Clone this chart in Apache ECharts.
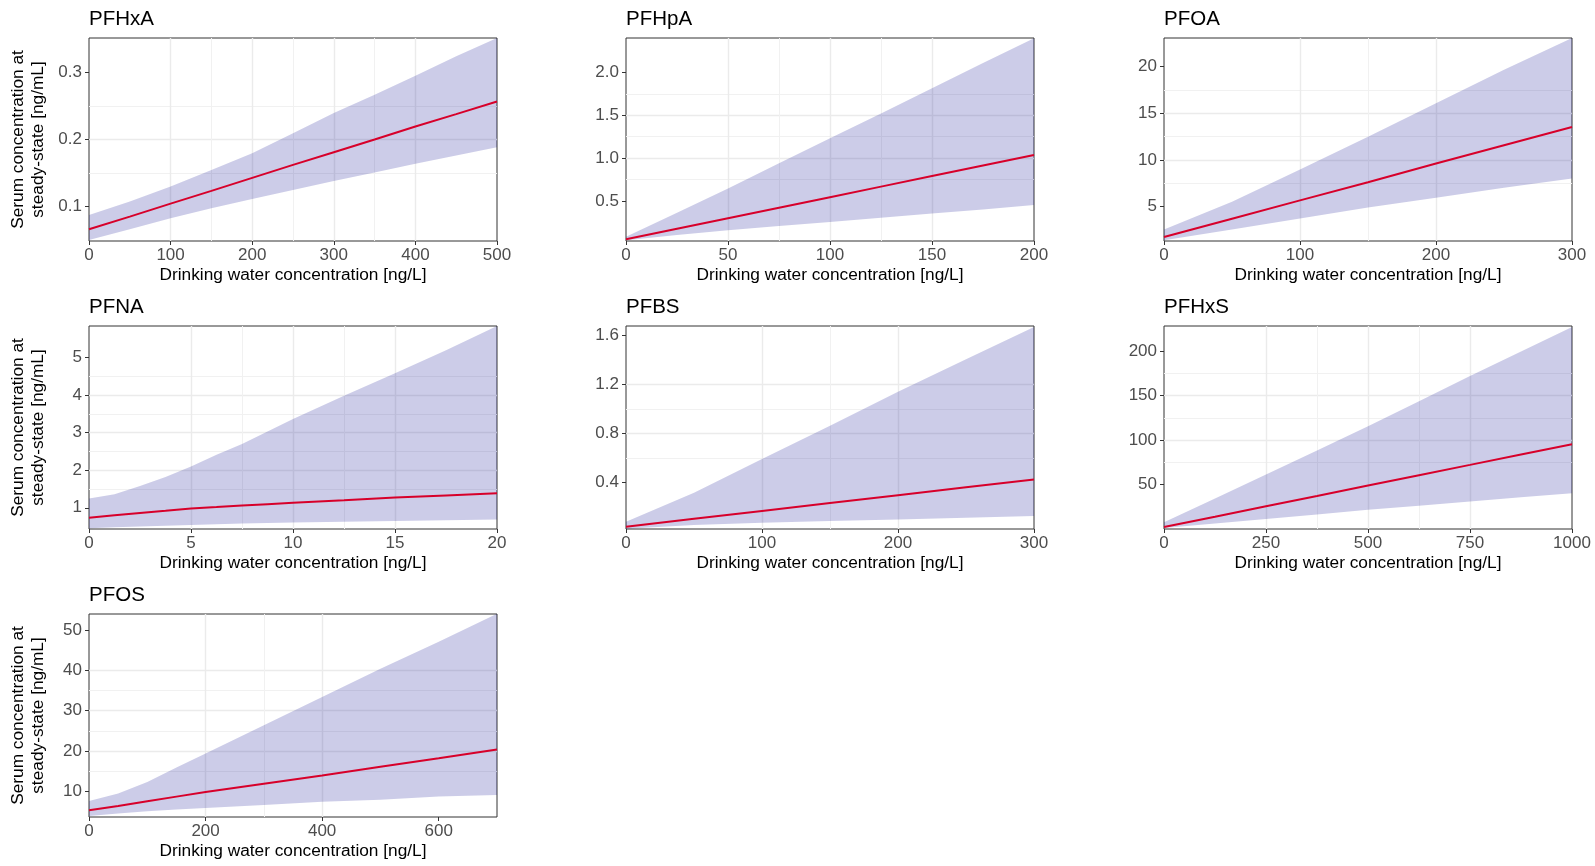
<!DOCTYPE html>
<html>
<head>
<meta charset="utf-8">
<title>Serum vs drinking water</title>
<script src="https://cdn.jsdelivr.net/npm/echarts@6/dist/echarts.min.js"></script>
<style>
  html, body { margin: 0; padding: 0; background: #fff; }
  #chart { width: 1595px; height: 866px; }
</style>
</head>
<body>
<div id="chart"></div>
<script>
// panel titles
const panelNames = ['PFHxA', 'PFHpA', 'PFOA', 'PFNA', 'PFBS', 'PFHxS', 'PFOS']

// median line + band (low / high) for each compound
const pfhxaX = [0, 50, 100, 150, 200, 250, 300, 350, 400, 450, 500]
const pfhxaMid = [0.0655, 0.0845, 0.104, 0.123, 0.1425, 0.162, 0.181, 0.2, 0.2195, 0.238, 0.257]
const pfhxaLow = [0.0495, 0.0655, 0.082, 0.097, 0.111, 0.1245, 0.138, 0.1505, 0.1635, 0.176, 0.1885]
const pfhxaHigh = [0.087, 0.107, 0.1295, 0.1545, 0.1795, 0.2095, 0.2395, 0.267, 0.2955, 0.3245, 0.352]

const pfhpaX = [0, 25, 50, 75, 100, 125, 150, 175, 200]
const pfhpaMid = [0.051, 0.174, 0.297, 0.42, 0.543, 0.666, 0.789, 0.912, 1.035]
const pfhpaLow = [0.039, 0.1, 0.156, 0.205, 0.254, 0.303, 0.352, 0.4, 0.452]
const pfhpaHigh = [0.08, 0.36, 0.645, 0.94, 1.23, 1.52, 1.816, 2.11, 2.4]

const pfoaX = [0, 50, 100, 150, 200, 250, 300]
const pfoaMid = [1.74, 3.7, 5.66, 7.6, 9.6, 11.55, 13.51]
const pfoaLow = [1.38, 2.53, 3.71, 4.89, 5.93, 7.0, 8.0]
const pfoaHigh = [2.53, 5.5, 8.97, 12.48, 16.06, 19.64, 23.04]

const pfnaX = [0, 1.25, 2.5, 3.75, 5, 6.25, 7.5, 8.75, 10, 12.5, 15, 17.5, 20]
const pfnaMid = [0.736, 0.8, 0.86, 0.92, 0.982, 1.02, 1.06, 1.096, 1.132, 1.2, 1.273, 1.33, 1.388]
const pfnaLow = [0.454, 0.48, 0.5, 0.52, 0.54, 0.56, 0.58, 0.595, 0.61, 0.63, 0.65, 0.67, 0.69]
const pfnaHigh = [1.25, 1.36, 1.58, 1.82, 2.1, 2.41, 2.7, 3.03, 3.36, 3.98, 4.58, 5.19, 5.84]

const pfbsX = [0, 50, 100, 150, 200, 250, 300]
const pfbsMid = [0.036, 0.1, 0.165, 0.23, 0.294, 0.358, 0.422]
const pfbsLow = [0.02, 0.05, 0.068, 0.082, 0.095, 0.109, 0.123]
const pfbsHigh = [0.077, 0.313, 0.59, 0.862, 1.141, 1.407, 1.671]

const pfhxsX = [0, 125, 250, 375, 500, 625, 750, 875, 1000]
const pfhxsMid = [2.4, 14.0, 25.7, 37.3, 49.0, 60.6, 72.2, 83.9, 95.5]
const pfhxsLow = [1.3, 6.3, 11.3, 16.5, 21.7, 26.3, 31.0, 35.7, 40.3]
const pfhxsHigh = [7.6, 34.5, 61.5, 88.5, 115.6, 143.8, 172.1, 199.6, 227.2]

const pfosX = [0, 50, 100, 150, 200, 300, 400, 500, 600, 700]
const pfosMid = [5.3, 6.4, 7.55, 8.7, 9.84, 11.9, 13.96, 16.1, 18.2, 20.4]
const pfosLow = [3.9, 4.5, 5.1, 5.5, 5.9, 6.6, 7.4, 7.9, 8.7, 9.1]
const pfosHigh = [7.6, 9.5, 12.3, 15.9, 19.4, 26.4, 33.4, 40.4, 47.1, 54.0]

// axis ranges and ticks
const xRanges = [[0, 500], [0, 200], [0, 300], [0, 20], [0, 300], [0, 1000], [0, 700]]
const yRanges = [[0.048, 0.352], [0.031, 2.402], [1.31, 23.04], [0.436, 5.837], [0.017, 1.679], [0.13, 228.3], [3.65, 53.96]]
const xTicks = [
  [0, 100, 200, 300, 400, 500], [0, 50, 100, 150, 200], [0, 100, 200, 300],
  [0, 5, 10, 15, 20], [0, 100, 200, 300], [0, 250, 500, 750, 1000], [0, 200, 400, 600]
]
const xMinorTicks = [
  [50, 150, 250, 350, 450], [25, 75, 125, 175], [50, 150, 250],
  [2.5, 7.5, 12.5, 17.5], [50, 150, 250], [125, 375, 625, 875], [100, 300, 500]
]
const yTicks = [
  [0.1, 0.2, 0.3], [0.5, 1.0, 1.5, 2.0], [5, 10, 15, 20],
  [1, 2, 3, 4, 5], [0.4, 0.8, 1.2, 1.6], [50, 100, 150, 200], [10, 20, 30, 40, 50]
]
const yMinorTicks = [
  [0.05, 0.15, 0.25, 0.35], [0.25, 0.75, 1.25, 1.75, 2.25], [2.5, 7.5, 12.5, 17.5, 22.5],
  [0.5, 1.5, 2.5, 3.5, 4.5, 5.5], [0.2, 0.6, 1.0, 1.4], [25, 75, 125, 175, 225], [5, 15, 25, 35, 45]
]
const yDecimals = [1, 1, 0, 0, 1, 0, 0]

const panels = [
  { x: pfhxaX, mid: pfhxaMid, low: pfhxaLow, high: pfhxaHigh },
  { x: pfhpaX, mid: pfhpaMid, low: pfhpaLow, high: pfhpaHigh },
  { x: pfoaX, mid: pfoaMid, low: pfoaLow, high: pfoaHigh },
  { x: pfnaX, mid: pfnaMid, low: pfnaLow, high: pfnaHigh },
  { x: pfbsX, mid: pfbsMid, low: pfbsLow, high: pfbsHigh },
  { x: pfhxsX, mid: pfhxsMid, low: pfhxsLow, high: pfhxsHigh },
  { x: pfosX, mid: pfosMid, low: pfosLow, high: pfosHigh }
]

const FONT = "'Liberation Sans', Arial, sans-serif"
const colLeft = [89, 626, 1164]
const rowTop = [38, 326, 614]
const plotW = 408
const plotH = 203

const titles = [], grids = [], xAxes = [], yAxes = [], series = []

panels.forEach((p, i) => {
  const col = i % 3
  const row = Math.floor(i / 3)
  const left = colLeft[col]
  const top = rowTop[row]

  titles.push({
    text: panelNames[i],
    left: left,
    top: top - 29,
    padding: 0,
    textStyle: { fontFamily: FONT, fontSize: 20.5, fontWeight: 'normal', color: '#000' }
  })

  grids.push({
    left: left, top: top, width: plotW, height: plotH,
    show: true, borderColor: '#333333', borderWidth: 1, backgroundColor: 'transparent'
  })

  // main x axis
  xAxes.push({
    type: 'value', gridIndex: i, min: xRanges[i][0], max: xRanges[i][1],
    axisLine: { show: false },
    axisTick: { show: true, length: 4, customValues: xTicks[i], lineStyle: { color: '#333333' } },
    axisLabel: {
      customValues: xTicks[i], margin: 6, color: '#4D4D4D', fontSize: 17, fontFamily: FONT,
      formatter: v => String(v)
    },
    splitLine: { show: true, showMinLine: false, showMaxLine: false, lineStyle: { color: '#EBEBEB', width: 1.4 } },
    name: 'Drinking water concentration [ng/L]',
    nameLocation: 'middle', nameGap: 26,
    nameTextStyle: { fontFamily: FONT, fontSize: 17.3, color: '#000' }
  })
  // minor x grid
  xAxes.push({
    type: 'value', gridIndex: i, min: xRanges[i][0], max: xRanges[i][1], position: 'bottom',
    axisLine: { show: false },
    axisTick: { show: false, customValues: xMinorTicks[i] },
    axisLabel: { show: false },
    splitLine: { show: true, showMinLine: false, showMaxLine: false, lineStyle: { color: '#F1F1F1', width: 1 } }
  })

  const dec = yDecimals[i]
  const yMain = {
    type: 'value', gridIndex: i, min: yRanges[i][0], max: yRanges[i][1],
    axisLine: { show: false },
    axisTick: { show: true, length: 4, customValues: yTicks[i], lineStyle: { color: '#333333' } },
    axisLabel: {
      customValues: yTicks[i], margin: 7, color: '#4D4D4D', fontSize: 17, fontFamily: FONT,
      formatter: v => Number(v).toFixed(dec)
    },
    splitLine: { show: true, showMinLine: false, showMaxLine: false, lineStyle: { color: '#EBEBEB', width: 1.4 } }
  }
  if (col === 0) {
    yMain.name = 'Serum concentration at\nsteady-state [ng/mL]'
    yMain.nameLocation = 'middle'
    yMain.nameGap = 41
    yMain.nameRotate = 90
    yMain.nameTextStyle = { fontFamily: FONT, fontSize: 17.3, color: '#000', lineHeight: 20 }
  }
  yAxes.push(yMain)
  yAxes.push({
    type: 'value', gridIndex: i, min: yRanges[i][0], max: yRanges[i][1], position: 'left',
    axisLine: { show: false },
    axisTick: { show: false, customValues: yMinorTicks[i] },
    axisLabel: { show: false },
    splitLine: { show: true, showMinLine: false, showMaxLine: false, lineStyle: { color: '#F1F1F1', width: 1 } }
  })

  const xi = 2 * i
  // ribbon between low and high, one polygon through the axes' scales
  series.push({
    type: 'custom', xAxisIndex: xi, yAxisIndex: xi, silent: true,
    data: p.x.map((v, j) => [v, p.low[j], p.high[j]]),
    encode: { x: 0, y: [1, 2] },
    renderItem: (params, api) => {
      if (params.dataIndex !== 0) return
      const pts = []
      p.x.forEach((v, j) => pts.push(api.coord([v, p.high[j]])))
      for (let j = p.x.length - 1; j >= 0; j--) pts.push(api.coord([p.x[j], p.low[j]]))
      return { type: 'polygon', shape: { points: pts }, style: { fill: 'rgba(0, 0, 139, 0.2)' } }
    },
    z: 2
  })
  series.push({
    type: 'line', xAxisIndex: xi, yAxisIndex: xi,
    data: p.x.map((v, j) => [v, p.mid[j]]),
    symbol: 'none', lineStyle: { color: '#D7002A', width: 2 }, z: 5
  })
})

const chart = echarts.init(document.getElementById('chart'))
chart.setOption({
  animation: false,
  backgroundColor: '#fff',
  title: titles,
  grid: grids,
  xAxis: xAxes,
  yAxis: yAxes,
  series: series
})
</script>
</body>
</html>
